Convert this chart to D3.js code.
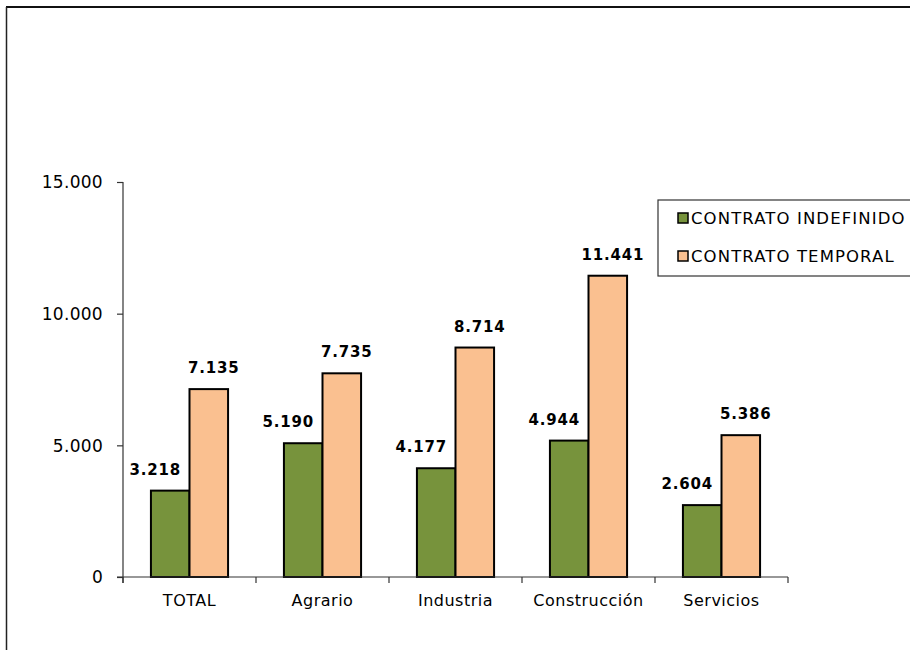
<!DOCTYPE html>
<html><head><meta charset="utf-8">
<script src="https://cdn.jsdelivr.net/npm/d3@7/dist/d3.min.js"></script>
<style>
body{margin:0;background:#fff;}
svg{display:block;}
text{font-family:"DejaVu Sans",sans-serif;fill:#000;}
</style></head>
<body>
<svg id="c" width="910" height="650"></svg>
<script>
const categories = ["TOTAL","Agrario","Industria","Construcción","Servicios"];
const seriesNames = ["CONTRATO INDEFINIDO","CONTRATO TEMPORAL"];
const indefinidoBars = [3280, 5080, 4130, 5180, 2730];
const temporalBars = [7135, 7735, 8714, 11441, 5386];
const indefinidoLabels = ["3.218","5.190","4.177","4.944","2.604"];
const temporalLabels = ["7.135","7.735","8.714","11.441","5.386"];
const yTicks = [0, 5000, 10000, 15000];
const yTickLabels = ["0","5.000","10.000","15.000"];
const colors = ["#77933C","#FAC090"];

const svg = d3.select("#c");
// outer frame
svg.append("line").attr("x1",6).attr("x2",910).attr("y1",7).attr("y2",7)
  .attr("stroke","#111").attr("stroke-width",2.2);
svg.append("line").attr("x1",6.5).attr("x2",6.5).attr("y1",7).attr("y2",650)
  .attr("stroke","#222").attr("stroke-width",1.5);

const m = {left:123, right:788, top:182, bottom:577};
const x = d3.scaleBand().domain(categories).range([m.left, m.right]).paddingInner(0).paddingOuter(0);
const y = d3.scaleLinear().domain([0,15000]).range([m.bottom, m.top]);
const groupW = x.bandwidth()*0.58;
const xs = d3.scaleBand().domain([0,1]).range([0, groupW]);

const g = svg.append("g");
const series = [
  {vals: indefinidoBars, labs: indefinidoLabels, dx: -15},
  {vals: temporalBars, labs: temporalLabels, dx: 5}
];
series.forEach((s, si) => {
  g.selectAll(null).data(categories).enter().append("rect")
    .attr("x", (c) => x(c) + (x.bandwidth()-groupW)/2 + xs(si))
    .attr("y", (c,i) => y(s.vals[i]))
    .attr("width", xs.bandwidth())
    .attr("height", (c,i) => y(0) - y(s.vals[i]))
    .attr("fill", colors[si]).attr("stroke","#000").attr("stroke-width",2);
  g.selectAll(null).data(categories).enter().append("text")
    .attr("x", (c) => x(c) + (x.bandwidth()-groupW)/2 + xs(si) + xs.bandwidth()/2 + s.dx)
    .attr("y", (c,i) => y(s.vals[i]) - 16)
    .attr("text-anchor","middle").attr("font-weight","bold").attr("font-size",15)
    .attr("letter-spacing", 0.8)
    .text((c,i) => s.labs[i]);
});

// y axis
const yAxis = d3.axisLeft(y).tickValues(yTicks).tickSize(6).tickPadding(14)
  .tickFormat((d,i) => yTickLabels[i]);
const ya = svg.append("g").attr("transform",`translate(${m.left},0)`).call(yAxis);
ya.select(".domain").attr("stroke","#333").attr("stroke-width",1.2).attr("d",`M-0,${m.top}V${m.bottom+6}`);
ya.selectAll(".tick line").attr("stroke","#333").attr("stroke-width",1.2);
ya.selectAll(".tick text").attr("font-size",17).attr("font-family","DejaVu Sans").attr("fill","#000").attr("dy","0.35em").attr("letter-spacing",0.3);

// x axis
const xa = svg.append("g").attr("transform",`translate(0,${m.bottom})`);
xa.append("line").attr("x1",m.left-6).attr("x2",m.right).attr("y1",0).attr("y2",0).attr("stroke","#333").attr("stroke-width",1.2);
const boundaries = categories.map(c => x(c)).concat([m.right]);
xa.selectAll(null).data(boundaries).enter().append("line")
  .attr("x1",d=>d).attr("x2",d=>d).attr("y1",0).attr("y2",6).attr("stroke","#333").attr("stroke-width",1.2);
xa.selectAll(null).data(categories).enter().append("text")
  .attr("x", c => x(c)+x.bandwidth()/2).attr("y", 29)
  .attr("text-anchor","middle").attr("font-size",16).attr("letter-spacing",0.5).text(c=>c);

// legend
const lg = svg.append("g");
lg.append("rect").attr("x",658).attr("y",200).attr("width",260).attr("height",76)
  .attr("fill","#fff").attr("stroke","#333").attr("stroke-width",1.2);
seriesNames.forEach((n,i) => {
  const cy = 218 + i*38;
  lg.append("rect").attr("x",678).attr("y",cy-5).attr("width",10).attr("height",10)
    .attr("fill",colors[i]).attr("stroke","#000").attr("stroke-width",1.5);
  lg.append("text").attr("x",691).attr("y",cy).attr("dy","0.36em").attr("font-size",16.5)
    .attr("letter-spacing",1.1).text(n);
});
</script>
</body></html>
